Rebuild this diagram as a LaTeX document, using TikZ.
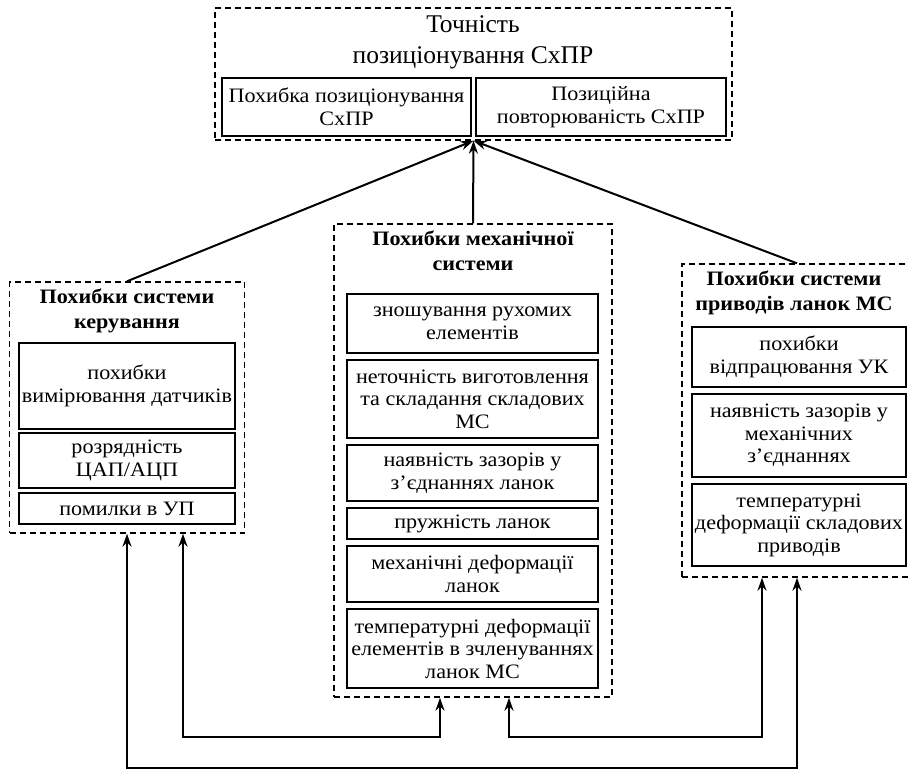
\documentclass[tikz,border=0pt]{standalone}
\usepackage{fontspec}
\setmainfont{Liberation Serif}[FakeStretch=1.08]
\newfontfamily\titlefont{Liberation Serif}
\usetikzlibrary{arrows.meta}
\begin{document}
\begin{tikzpicture}[x=1pt,y=-1pt,
  inbox/.style={draw, line width=1.8pt, align=center, inner sep=0pt, font=\fontsize{20.5}{22.5}\selectfont},
  grp/.style={draw, line width=1.4pt, dash pattern=on 6pt off 4pt, inner sep=0pt},
  head/.style={align=center, inner sep=0pt, font=\fontsize{20.5}{25}\selectfont\bfseries},
  conn/.style={line width=2pt, -{Stealth[length=13pt,width=9pt]}},
  bconn/.style={line width=2pt, {Stealth[length=13pt,width=9pt]}-{Stealth[length=13pt,width=9pt]}},
]
\useasboundingbox (0,0) rectangle (908,769);

% top group
\node[grp, minimum width=517pt, minimum height=132pt] (T) at (473.5,74) {};
\node[align=center, inner sep=0pt, font=\titlefont\fontsize{25.5}{31}\selectfont] (Tt) at (473,42) {Точність\\позиціонування СхПР};
\node[inbox, minimum width=249pt, minimum height=58pt] (T1) at (346.5,107) {Похибка позиціонування\\СхПР};
\node[inbox, minimum width=250pt, minimum height=58pt] (T2) at (601,107) {Позиційна\\повторюваність СхПР};

% left group
\node[grp, minimum width=235pt, minimum height=251pt] (L) at (127,407.5) {};
\node[head] (Lh) at (127,311) {Похибки системи\\керування};
\node[inbox, minimum width=216pt, minimum height=86pt] (L1) at (127,386) {похибки\\вимірювання датчиків};
\node[inbox, minimum width=216pt, minimum height=55pt] (L2) at (127,460.5) {розрядність\\ЦАП/АЦП};
\node[inbox, minimum width=216pt, minimum height=31pt] (L3) at (127,508.5) {помилки в УП};

% middle group
\node[grp, minimum width=278pt, minimum height=473pt] (M) at (473,460.5) {};
\node[head] (Mh) at (473,251) {Похибки механічної\\системи};
\node[inbox, minimum width=251pt, minimum height=59pt] (M1) at (472.5,323.5) {зношування рухомих\\елементів};
\node[inbox, minimum width=251pt, minimum height=78pt] (M2) at (472.5,399) {неточність виготовлення\\та складання складових\\МС};
\node[inbox, minimum width=251pt, minimum height=56pt] (M3) at (472.5,473) {наявність зазорів у\\з’єднаннях ланок};
\node[inbox, minimum width=251pt, minimum height=31pt] (M4) at (472.5,523.5) {пружність ланок};
\node[inbox, minimum width=251pt, minimum height=56pt] (M5) at (472.5,574) {механічні деформації\\ланок};
\node[inbox, minimum width=251pt, minimum height=79pt] (M6) at (472.5,648.5) {температурні деформації\\елементів в зчленуваннях\\ланок МС};

% right group
\node[grp, minimum width=230pt, minimum height=313pt] (R) at (797,420.5) {};
\node[head] (Rh) at (794,293) {Похибки системи\\приводів ланок МС};
\node[inbox, minimum width=214pt, minimum height=60pt] (R1) at (799,357) {похибки\\відпрацювання УК};
\node[inbox, minimum width=214pt, minimum height=83pt] (R2) at (799,435.5) {наявність зазорів у\\механічних\\з’єднаннях};
\node[inbox, minimum width=214pt, minimum height=82pt] (R3) at (799,525) {температурні\\деформації складових\\приводів};

% connectors to top
\draw[conn] (L.north) -- (T.south);
\draw[conn] (M.north) -- (T.south);
\draw[conn] (R.north) -- (T.south);

% bottom attachment points
\coordinate (La) at ([xshift=56pt]L.south);
\coordinate (Ma) at ([xshift=-33pt]M.south);
\coordinate (Mb) at ([xshift=36pt]M.south);
\coordinate (Ra) at ([xshift=-35pt]R.south);

\draw[bconn] (L.south) -- (L.south |- 0,767.5) -| (R.south);
\draw[bconn] (La) -- (La |- 0,737) -| (Ma);
\draw[bconn] (Mb) -- (Mb |- 0,737) -| (Ra);
\end{tikzpicture}
\end{document}
